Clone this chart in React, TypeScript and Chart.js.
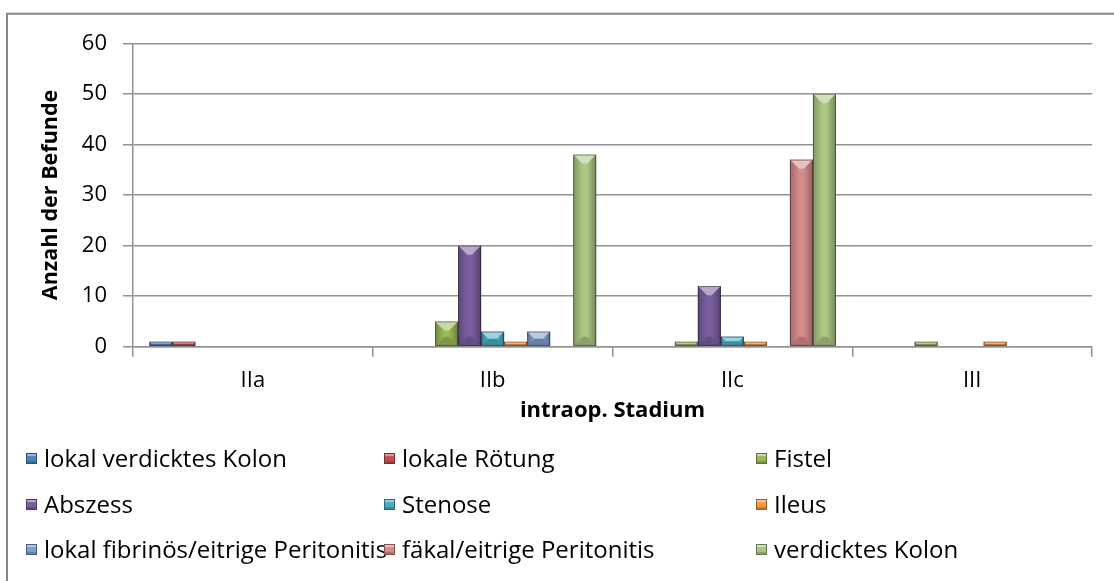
import React, { useEffect, useRef } from 'react';
import { Chart, registerables } from 'chart.js';

Chart.register(...registerables);

const categories = ['IIa', 'IIb', 'IIc', 'III'];

const seriesNames = [
  'lokal verdicktes Kolon',
  'lokale Rötung',
  'Fistel',
  'Abszess',
  'Stenose',
  'Ileus',
  'lokal fibrinös/eitrige Peritonitis',
  'fäkal/eitrige Peritonitis',
  'verdicktes Kolon',
];

const lokalVerdicktesKolon = [1, 0, 0, 0];
const lokaleRoetung = [1, 0, 0, 0];
const fistel = [0, 5, 1, 1];
const abszess = [0, 20, 12, 0];
const stenose = [0, 3, 2, 0];
const ileus = [0, 1, 1, 1];
const lokalFibrinoes = [0, 3, 0, 0];
const faekal = [0, 0, 37, 0];
const verdicktesKolon = [0, 38, 50, 0];

const seriesValues = [
  lokalVerdicktesKolon,
  lokaleRoetung,
  fistel,
  abszess,
  stenose,
  ileus,
  lokalFibrinoes,
  faekal,
  verdicktesKolon,
];

const seriesColors = [
  '#4F81BD',
  '#C0504D',
  '#9BBB59',
  '#7A5FA0',
  '#4BACC6',
  '#F79646',
  '#819DCA',
  '#D68C8A',
  '#ABC784',
];

const yMin = 0;
const yMax = 60;
const yStep = 10;

const W = 1114;
const H = 581;
const FONT = "'Open Sans', 'DejaVu Sans', sans-serif";

function darken(hex: string, f: number) {
  const n = parseInt(hex.slice(1), 16);
  const r = Math.round(((n >> 16) & 255) * f);
  const g = Math.round(((n >> 8) & 255) * f);
  const b = Math.round((n & 255) * f);
  return `rgb(${r},${g},${b})`;
}

const framePlugin = {
  id: 'frame',
  beforeDraw(chart: any) {
    const ctx = chart.ctx;
    ctx.save();
    ctx.fillStyle = '#ffffff';
    ctx.fillRect(0, 0, chart.width, chart.height);
    ctx.strokeStyle = '#868686';
    ctx.lineWidth = 2;
    ctx.beginPath();
    ctx.moveTo(7, chart.height + 2);
    ctx.lineTo(7, 13.7);
    ctx.lineTo(chart.width + 2, 13.7);
    ctx.stroke();
    ctx.restore();
  },
};

const bevelPlugin = {
  id: 'bevel',
  afterDatasetsDraw(chart: any) {
    const ctx = chart.ctx;
    chart.data.datasets.forEach((_ds: any, di: number) => {
      const meta = chart.getDatasetMeta(di);
      if (meta.hidden) return;
      meta.data.forEach((bar: any) => {
        const { x, y, base, width } = bar.getProps(['x', 'y', 'base', 'width'], true);
        const h = base - y;
        if (h < 0.5) return;
        const x0 = x - width / 2;
        const x1 = x + width / 2;
        const b = Math.min(width * 0.4, h / 2);
        ctx.save();
        // top highlight
        ctx.fillStyle = 'rgba(255,255,255,0.45)';
        ctx.beginPath();
        ctx.moveTo(x0, y);
        ctx.lineTo(x1, y);
        ctx.lineTo(x1 - b, y + b);
        ctx.lineTo(x0 + b, y + b);
        ctx.closePath();
        ctx.fill();
        // left side
        const gl = ctx.createLinearGradient(x0, 0, x0 + b, 0);
        gl.addColorStop(0, 'rgba(0,0,0,0.25)');
        gl.addColorStop(1, 'rgba(0,0,0,0.0)');
        ctx.fillStyle = gl;
        ctx.beginPath();
        ctx.moveTo(x0, y);
        ctx.lineTo(x0 + b, y + b);
        ctx.lineTo(x0 + b, base - b);
        ctx.lineTo(x0, base);
        ctx.closePath();
        ctx.fill();
        // right side
        const gr = ctx.createLinearGradient(x1, 0, x1 - b, 0);
        gr.addColorStop(0, 'rgba(0,0,0,0.32)');
        gr.addColorStop(1, 'rgba(0,0,0,0.0)');
        ctx.fillStyle = gr;
        ctx.beginPath();
        ctx.moveTo(x1, y);
        ctx.lineTo(x1 - b, y + b);
        ctx.lineTo(x1 - b, base - b);
        ctx.lineTo(x1, base);
        ctx.closePath();
        ctx.fill();
        // bottom
        ctx.fillStyle = 'rgba(0,0,0,0.18)';
        ctx.beginPath();
        ctx.moveTo(x0, base);
        ctx.lineTo(x0 + b, base - b);
        ctx.lineTo(x1 - b, base - b);
        ctx.lineTo(x1, base);
        ctx.closePath();
        ctx.fill();
        // outline
        ctx.strokeStyle = 'rgba(0,0,0,0.4)';
        ctx.lineWidth = 1;
        ctx.strokeRect(x0 + 0.5, y + 0.5, width - 1, h - 1);
        ctx.restore();
      });
    });
  },
};

const legendCols = [26, 384, 756];
const legendRows = [458, 504, 549];

export default function App() {
  const canvasRef = useRef<HTMLCanvasElement | null>(null);

  useEffect(() => {
    if (!canvasRef.current) return;
    const chart = new Chart(canvasRef.current, {
      type: 'bar',
      data: {
        labels: categories,
        datasets: seriesNames.map((name, i) => ({
          label: name,
          data: seriesValues[i],
          backgroundColor: seriesColors[i],
          borderWidth: 0,
          categoryPercentage: 0.864,
          barPercentage: 1,
        })),
      },
      options: {
        animation: false,
        responsive: false,
        maintainAspectRatio: false,
        devicePixelRatio: 1,
        layout: { padding: { left: 0, top: 43.3, right: 22, bottom: 0 } },
        plugins: {
          legend: { display: false },
          tooltip: { enabled: false },
        },
        scales: {
          x: {
            afterFit: (s: any) => {
              s.height = H - 346.7;
            },
            grid: {
              display: true,
              drawOnChartArea: false,
              drawTicks: true,
              tickLength: 10,
              color: '#929292',
              lineWidth: 1.5,
            },
            border: { display: true, color: '#929292', width: 1.5 },
            ticks: {
              color: '#000',
              font: { family: FONT, size: 22 },
              padding: 11,
            },
            title: {
              display: true,
              text: 'intraop. Stadium',
              color: '#000',
              font: { family: FONT, size: 22, weight: 'bold' },
              padding: { top: 0, bottom: 156.8 },
            },
          },
          y: {
            min: yMin,
            max: yMax,
            afterFit: (s: any) => {
              s.width = 133;
            },
            grid: {
              color: '#929292',
              lineWidth: 1.5,
              tickLength: 10,
            },
            border: { display: true, color: '#929292', width: 1.5 },
            ticks: {
              stepSize: yStep,
              color: '#000',
              font: { family: FONT, size: 22 },
              padding: 16,
            },
            title: {
              display: true,
              text: 'Anzahl der Befunde',
              color: '#000',
              font: { family: FONT, size: 21.5, weight: 'bold' },
              padding: { top: 38, bottom: 0 },
            },
          },
        },
      },
      plugins: [framePlugin, bevelPlugin],
    });
    return () => chart.destroy();
  }, []);

  return (
    <div style={{ position: 'absolute', left: 0, top: 0, width: W, height: H, overflow: 'hidden', background: '#fff' }}>
      <canvas ref={canvasRef} width={W} height={H} style={{ position: 'absolute', left: 0, top: 0, width: W, height: H }} />
      {seriesNames.map((name, i) => {
        const col = i % 3;
        const row = Math.floor(i / 3);
        const left = legendCols[col];
        const cy = legendRows[row];
        return (
          <div
            key={name}
            style={{
              position: 'absolute',
              left,
              top: cy - 17,
              height: 34,
              display: 'flex',
              alignItems: 'center',
              fontFamily: FONT,
              fontSize: 24,
              color: '#000',
              whiteSpace: 'nowrap',
            }}
          >
            <span
              style={{
                display: 'inline-block',
                width: 11,
                height: 11,
                boxSizing: 'border-box',
                background: seriesColors[i],
                border: `1px solid ${darken(seriesColors[i], 0.6)}`,
                boxShadow: 'inset 0 2px 1px rgba(255,255,255,0.45), inset 0 -2px 1px rgba(0,0,0,0.2)',
                marginRight: 7,
              }}
            />
            <span style={{ lineHeight: '34px' }}>{name}</span>
          </div>
        );
      })}
    </div>
  );
}
